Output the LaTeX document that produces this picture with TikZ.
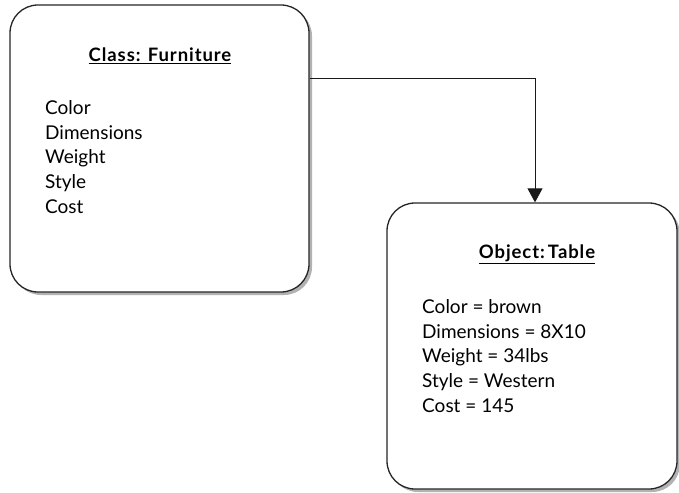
\documentclass[tikz,border=0pt]{standalone}
\usepackage{fontspec}
\setmainfont{Lato}
\newfontfamily\headfont[LetterSpace=5]{Lato}
\usetikzlibrary{arrows.meta,shadows}
\begin{document}
\begin{tikzpicture}[x=1pt,y=-1pt,
  card/.style={draw=black!85, line width=1.3pt, rounded corners=28pt, fill=white,
    drop shadow={shadow xshift=3pt, shadow yshift=-3pt, fill=black!30, opacity=1}},
  heading/.style={anchor=base, font=\fontsize{18.5}{22}\headfont\bfseries},
  attrs/.style={anchor=base west, align=left, inner sep=0pt,
    font=\fontsize{19}{24.6}\selectfont},
  link/.style={line width=0.9pt, black!90, -{Triangle[length=14pt,width=15pt]}}]
\useasboundingbox (0,0) rectangle (679,492);

% class box
\node[card, minimum width=299pt, minimum height=287pt] (furn) at (159.5,148.5) {};
\node[heading] (furnT) at (160,62) {\underline{Class: Furniture}};
\node[attrs] (furnA) at (45,213) {Color\\Dimensions\\Weight\\Style\\Cost};

% object box
\node[card, minimum width=290pt, minimum height=286pt] (obj) at (532,346) {};
\node[heading] (objT) at (537,258) {\underline{Object:\,Table}};
\node[attrs] (objA) at (422,412) {Color = brown\\Dimensions = 8X10\\Weight = 34lbs\\Style = Western\\Cost = 145};

% instance-of connector
\coordinate (bend) at (535,78);
\draw[link] (bend -| furn.east) -- (bend) -- (bend |- obj.north);
\end{tikzpicture}
\end{document}
